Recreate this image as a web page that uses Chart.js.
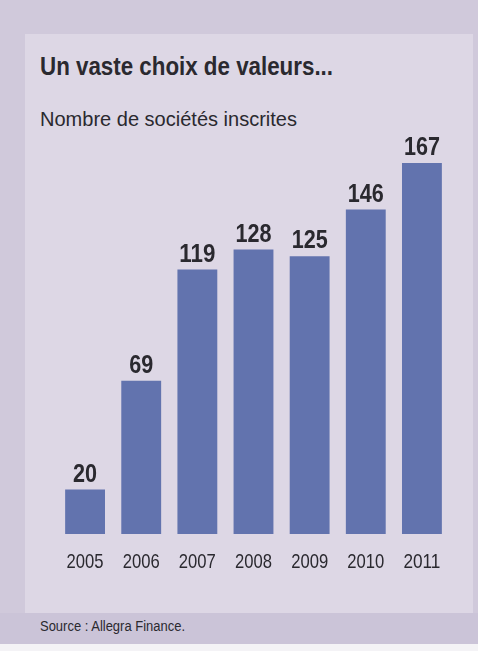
<!DOCTYPE html>
<html>
<head>
<meta charset="utf-8">
<script src="https://cdn.jsdelivr.net/npm/chart.js@4.4.0/dist/chart.umd.min.js"></script>
<style>
  html, body { margin: 0; padding: 0; }
  body {
    width: 478px; height: 651px; position: relative; overflow: hidden;
    background: #d0c9db;
    font-family: "Liberation Sans", Arial, sans-serif;
    color: #2a292f;
  }
  #panel { position: absolute; left: 25px; top: 34px; width: 448px; height: 579px; background: #ddd7e5; }
  #srcband { position: absolute; left: 0; top: 613px; width: 478px; height: 31px; background: #cbc4d8; }
  #white { position: absolute; left: 0; top: 644px; width: 478px; height: 7px; background: #f4f3f6; }
  .txt { position: absolute; left: 40px; white-space: nowrap; transform-origin: 0 0; }
  #title { top: 52px; font-weight: bold; font-size: 25px; }
  #sub { top: 107px; font-size: 21px; }
  #src { top: 618px; font-size: 14px; }
  #wrap { position: absolute; left: 0; top: 134px; width: 478px; height: 453px; }
</style>
</head>
<body>
<div id="panel"></div>
<div id="srcband"></div>
<div id="white"></div>
<div class="txt" id="title" data-w="293">Un vaste choix de valeurs...</div>
<div class="txt" id="sub" data-w="257">Nombre de sociétés inscrites</div>
<div class="txt" id="src" data-w="145">Source : Allegra Finance.</div>
<div id="wrap"><canvas id="c"></canvas></div>
<script>
const years = ['2005', '2006', '2007', '2008', '2009', '2010', '2011'];
const societes = [20, 69, 119, 128, 125, 146, 167];

// no narrow font installed: squeeze the texts to the printed widths
document.querySelectorAll('.txt').forEach(el => {
  const w = el.getBoundingClientRect().width;
  el.style.transform = 'scaleX(' + (el.dataset.w / w) + ')';
});

const FONT = '"Liberation Sans", Arial, sans-serif';

function narrowText(ctx, text, x, y, targetW) {
  const w = ctx.measureText(text).width;
  ctx.save();
  ctx.translate(x, y);
  ctx.scale(targetW / w, 1);
  ctx.fillText(text, 0, 0);
  ctx.restore();
}

// values above bars and years below, condensed like the print
const barTexts = {
  id: 'barTexts',
  afterDatasetsDraw(chart) {
    const ctx = chart.ctx;
    const meta = chart.getDatasetMeta(0);
    const xs = chart.scales.x;
    const bottom = chart.chartArea.bottom;
    ctx.save();
    ctx.fillStyle = '#2a292f';
    ctx.textAlign = 'center';
    ctx.textBaseline = 'alphabetic';
    ctx.font = 'bold 25px ' + FONT;
    meta.data.forEach((bar, i) => {
      const s = String(chart.data.datasets[0].data[i]);
      narrowText(ctx, s, bar.x, bar.y - 8, s.length * 12);
    });
    ctx.font = '21px ' + FONT;
    chart.data.labels.forEach((lab, i) => {
      narrowText(ctx, lab, xs.getPixelForValue(i), bottom + 34, 37);
    });
    ctx.restore();
  }
};

const ctx = document.getElementById('c').getContext('2d');
new Chart(ctx, {
  type: 'bar',
  data: {
    labels: years,
    datasets: [{
      data: societes,
      backgroundColor: '#6273ae',
      borderWidth: 0,
      barPercentage: 0.71,
      categoryPercentage: 1
    }]
  },
  options: {
    responsive: true,
    maintainAspectRatio: false,
    animation: false,
    layout: { padding: { left: 57, right: 28, top: 0, bottom: 53 } },
    plugins: { legend: { display: false }, tooltip: { enabled: false } },
    scales: {
      y: { display: false, min: 0, max: 180 },
      x: { display: false }
    }
  },
  plugins: [barTexts]
});
</script>
</body>
</html>
